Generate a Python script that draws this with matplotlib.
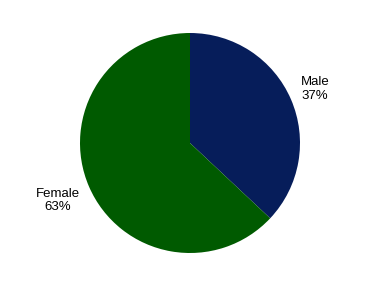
import numpy as np
import matplotlib.pyplot as plt

plt.rcParams['font.family'] = ['Liberation Sans', 'DejaVu Sans']

labels = ["Male", "Female"]
shares = [37, 63]
colors = ["#061D5A", "#005A00"]
label_dist = [1.24, 1.31]

fig = plt.figure(figsize=(3.8, 2.87), dpi=100)
ax = fig.add_axes([0.5 - 110 / 380, (287 - 143 - 110) / 287, 220 / 380, 220 / 287])

wedges, texts = ax.pie(shares, colors=colors, startangle=90, counterclock=False,
                       labels=[f"{l}\n{v}%" for l, v in zip(labels, shares)],
                       textprops={"fontsize": 9.5})
# label placement like the original (centred, a bit outside the rim)
for w, t, d in zip(wedges, texts, label_dist):
    mid = np.deg2rad((w.theta1 + w.theta2) / 2)
    t.set_position((d * np.cos(mid), d * np.sin(mid)))
    t.set_horizontalalignment("center")
    t.set_linespacing(1.15)
ax.set_xlim(-1, 1)
ax.set_ylim(-1, 1)
ax.set_aspect("equal")

fig.savefig("out.png", dpi=100)
